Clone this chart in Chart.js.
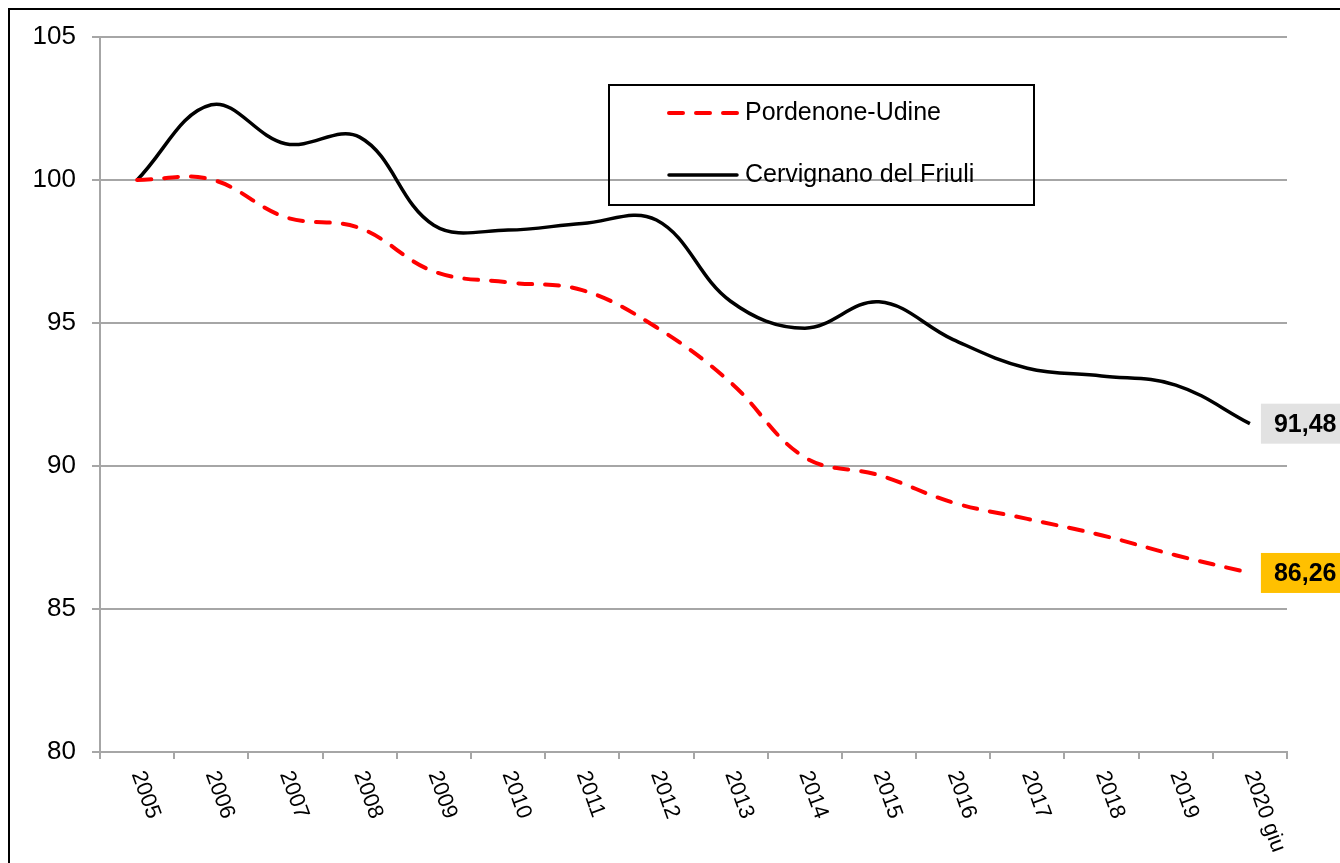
<!DOCTYPE html>
<html>
<head>
<meta charset="utf-8">
<script src="https://cdn.jsdelivr.net/npm/chart.js@4.4.1/dist/chart.umd.min.js"></script>
<style>
  html, body { margin: 0; padding: 0; background: #fff; overflow: hidden; }
  #wrap { width: 1340px; height: 863px; }
</style>
</head>
<body>
<div id="wrap"><canvas id="chart" width="1340" height="863"></canvas></div>
<script>
const anni = ['2005', '2006', '2007', '2008', '2009', '2010', '2011', '2012',
  '2013', '2014', '2015', '2016', '2017', '2018', '2019', '2020 giu'];

const pordenoneUdine = [100, 100.02, 98.7, 98.32, 96.8, 96.42, 96.15, 94.85,
  92.92, 90.3, 89.68, 88.72, 88.15, 87.58, 86.88, 86.26];

const cervignano = [100, 102.63, 101.27, 101.5, 98.42, 98.25, 98.48, 98.6,
  95.76, 94.82, 95.74, 94.42, 93.42, 93.15, 92.83, 91.48];

const yTicks = [80, 85, 90, 95, 100, 105];

const fontFamily = '"Liberation Sans", Arial, sans-serif';
const gridColor = '#a6a6a6';
const endLabelColors = ['#ffc000', '#e2e2e2'];

function virgola(v) {
  return v.toFixed(2).replace('.', ',');
}

// cornice esterna
const frame = {
  id: 'frame',
  afterDraw(chart) {
    const ctx = chart.ctx;
    ctx.save();
    ctx.strokeStyle = '#000';
    ctx.lineWidth = 2;
    ctx.strokeRect(9, 9, chart.width + 40, chart.height + 40);
    ctx.restore();
  }
};

// etichette anni ruotate verso il basso
const rotatedLabels = {
  id: 'rotatedLabels',
  afterDraw(chart) {
    const ctx = chart.ctx;
    const xs = chart.scales.x;
    ctx.save();
    ctx.fillStyle = '#000';
    ctx.font = '22px ' + fontFamily;
    ctx.textAlign = 'left';
    ctx.textBaseline = 'middle';
    anni.forEach((a, i) => {
      const x = xs.getPixelForValue(i);
      ctx.save();
      ctx.translate(x, xs.top + 20);
      ctx.rotate(70 * Math.PI / 180);
      ctx.fillText(a, 0, 0);
      ctx.restore();
    });
    ctx.restore();
  }
};

// legenda dentro il grafico
const boxLegend = {
  id: 'boxLegend',
  afterDraw(chart) {
    const ctx = chart.ctx;
    const left = 609, top = 85, w = 425, h = 120;
    ctx.save();
    ctx.strokeStyle = '#000';
    ctx.lineWidth = 2;
    ctx.strokeRect(left, top, w, h);
    ctx.font = '25px ' + fontFamily;
    ctx.textBaseline = 'middle';
    ctx.fillStyle = '#000';
    chart.data.datasets.forEach((ds, i) => {
      const y = top + 28 + i * 62;
      ctx.beginPath();
      ctx.strokeStyle = ds.borderColor;
      ctx.lineWidth = ds.borderWidth;
      ctx.setLineDash(ds.borderDash || []);
      ctx.lineCap = 'round';
      ctx.moveTo(left + 60, y);
      ctx.lineTo(left + 128, y);
      ctx.stroke();
      ctx.setLineDash([]);
      ctx.fillText(ds.label, left + 136, y);
    });
    ctx.restore();
  }
};

// valore finale evidenziato
const endLabels = {
  id: 'endLabels',
  afterDatasetsDraw(chart) {
    const ctx = chart.ctx;
    ctx.save();
    ctx.font = 'bold 25px ' + fontFamily;
    ctx.textBaseline = 'middle';
    chart.data.datasets.forEach((ds, i) => {
      const meta = chart.getDatasetMeta(i);
      const pt = meta.data[meta.data.length - 1];
      const v = ds.data[ds.data.length - 1];
      ctx.fillStyle = endLabelColors[i];
      ctx.fillRect(pt.x + 11, pt.y - 20, 120, 40);
      ctx.fillStyle = '#000';
      ctx.fillText(virgola(v), pt.x + 24, pt.y + 1);
    });
    ctx.restore();
  }
};

new Chart(document.getElementById('chart'), {
  type: 'line',
  data: {
    labels: anni,
    datasets: [
      {
        label: 'Pordenone-Udine',
        data: pordenoneUdine,
        borderColor: '#ff0000',
        borderWidth: 4,
        borderDash: [14, 13],
        borderCapStyle: 'round',
        tension: 0.38,
        pointRadius: 0,
        fill: false
      },
      {
        label: 'Cervignano del Friuli',
        data: cervignano,
        borderColor: '#000000',
        borderWidth: 3.5,
        tension: 0.38,
        pointRadius: 0,
        fill: false
      }
    ]
  },
  options: {
    responsive: false,
    animation: false,
    layout: { padding: { top: 37, right: 53, left: 0, bottom: 0 } },
    plugins: {
      legend: { display: false },
      tooltip: { enabled: false }
    },
    scales: {
      x: {
        type: 'category',
        offset: true,
        afterFit(scale) { scale.height = 111; },
        grid: {
          offset: true,
          drawOnChartArea: false,
          drawTicks: true,
          tickLength: 7,
          color: gridColor,
          lineWidth: 2
        },
        border: { color: gridColor, width: 2 },
        ticks: { display: false }
      },
      y: {
        min: yTicks[0],
        max: yTicks[yTicks.length - 1],
        afterFit(scale) { scale.width = 100; },
        afterBuildTicks(scale) { scale.ticks = yTicks.map(v => ({ value: v })); },
        grid: {
          color: gridColor,
          lineWidth: 2,
          tickLength: 8
        },
        border: { color: gridColor, width: 2 },
        ticks: {
          color: '#000',
          padding: 16,
          font: { family: fontFamily, size: 26 }
        }
      }
    }
  },
  plugins: [frame, rotatedLabels, boxLegend, endLabels]
});
</script>
</body>
</html>
